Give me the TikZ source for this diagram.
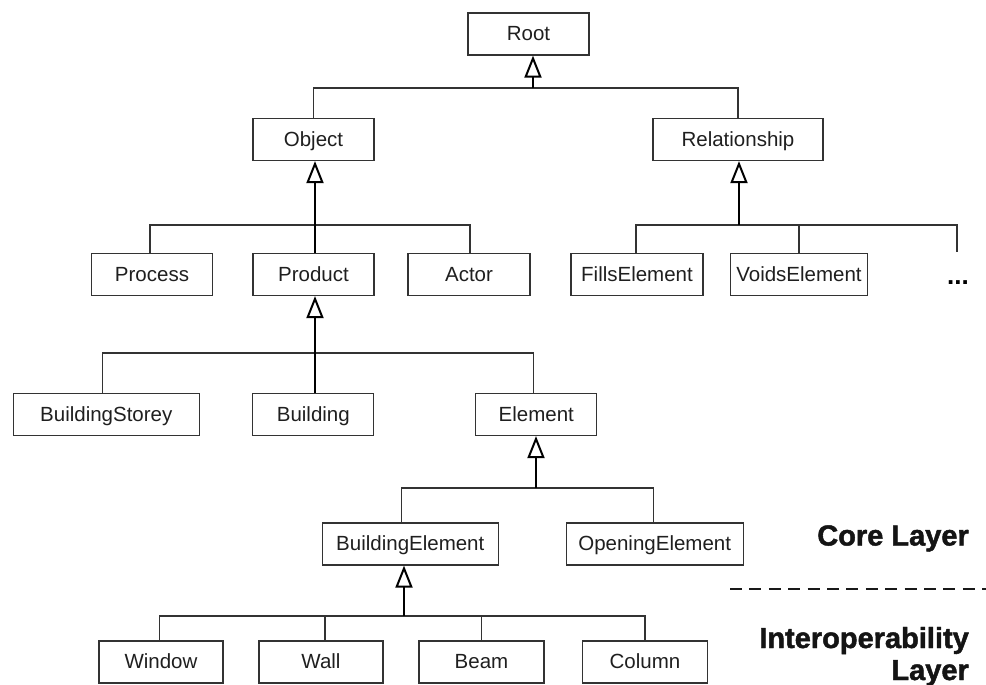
\documentclass[tikz,border=0pt]{standalone}
\usepackage{fontspec}
\setmainfont{Liberation Sans}
\newfontfamily\heavyfont{Liberation Sans}[BoldFeatures={FakeBold=1.6}]
\usetikzlibrary{arrows.meta}
\begin{document}
\begin{tikzpicture}[x=1pt,y=-1pt,
  cls/.style={draw=black!80, line width=1.2pt, minimum height=42pt, inner sep=0pt,
    text height=16pt, text depth=2.6pt,
    font=\fontsize{20.5}{24}\selectfont, text=black!88},
  link/.style={draw=black!80, line width=1.2pt},
  stem/.style={draw=black, line width=2.4pt,
    -{Triangle[open, length=22pt, width=17pt, line width=2pt]}},
  layer/.style={font=\heavyfont\bfseries\fontsize{29}{32}\selectfont, anchor=base east,
    inner sep=0pt, text=black!92},
  divider/.style={draw=black!90, line width=2.8pt, dash pattern=on 12pt off 7.4pt}]
\useasboundingbox (0,0) rectangle (986,685);

% class boxes
\node[cls, minimum width=121pt] (root) at (528.5,34) {Root};
\node[cls, minimum width=121pt] (object) at (313.5,139.5) {Object};
\node[cls, minimum width=170pt] (rel) at (738,139.5) {Relationship};
\node[cls, minimum width=121pt] (process) at (152,274.5) {Process};
\node[cls, minimum width=121pt] (product) at (313.5,274.5) {Product};
\node[cls, minimum width=122pt] (actor) at (469,274.5) {Actor};
\node[cls, minimum width=132pt] (fills) at (637,274.5) {FillsElement};
\node[cls, minimum width=137pt] (voids) at (799,274.5) {VoidsElement};
\node[font=\bfseries\fontsize{26}{28}\selectfont, inner sep=0pt] (dots) at (958,283) {...};
\node[cls, minimum width=186pt] (storey) at (106.3,414.5) {BuildingStorey};
\node[cls, minimum width=121pt] (building) at (313.3,414.5) {Building};
\node[cls, minimum width=121pt] (element) at (536.3,414.5) {Element};
\node[cls, minimum width=176pt] (belem) at (410.3,544) {BuildingElement};
\node[cls, minimum width=177pt] (opening) at (654.7,544) {OpeningElement};
\node[cls, minimum width=124pt] (window) at (161,662) {Window};
\node[cls, minimum width=124pt] (wall) at (321,662) {Wall};
\node[cls, minimum width=125pt] (beam) at (481.5,662) {Beam};
\node[cls, minimum width=125pt] (column) at (645,662) {Column};

% junctions of the generalisation trees
\coordinate (j0) at (533,88);
\coordinate (j1) at (315,225);
\coordinate (j1r) at (739,225);
\coordinate (more) at (957,252);
\coordinate (j2) at (315,353);
\coordinate (j3) at (536,488);
\coordinate (j4) at (404,616);
\coordinate (stop) at ([xshift=-3.6pt]storey.north);
\coordinate (etop) at ([xshift=-3pt]element.north);
\coordinate (btop) at ([xshift=-9pt]belem.north);
\coordinate (otop) at ([xshift=-1.5pt]opening.north);
\coordinate (wtop) at ([xshift=-1.7pt]window.north);
\coordinate (walltop) at ([xshift=4pt]wall.north);

% Root
\draw[link] (object.north) |- (j0) -| (rel.north);
\draw[stem] (j0) -- (j0 |- root.south);
% Object
\draw[link] ([xshift=-2pt]process.north) |- (j1) -| ([xshift=1pt]actor.north);
\draw[stem] (j1 |- product.north) -- (j1 |- object.south);
% Relationship
\draw[link] ([xshift=-1pt]fills.north) |- (j1r) -| (more);
\draw[link] (voids.north) -- (voids.north |- j1r);
\draw[stem] (j1r) -- (j1r |- rel.south);
% Product
\draw[link] (stop) |- (j2) -| (etop);
\draw[stem] (j2 |- building.north) -- (j2 |- product.south);
% Element
\draw[link] (btop) |- (j3) -| (otop);
\draw[stem] (j3) -- (j3 |- element.south);
% BuildingElement
\draw[link] (wtop) |- (j4) -| (column.north);
\draw[link] (walltop) -- (walltop |- j4);
\draw[link] (beam.north) -- (beam.north |- j4);
\draw[stem] (j4) -- (j4 |- belem.south);

% layer labels and divider
\node[layer] (core) at (969,545.5) {Core Layer};
\coordinate (dashL) at (730,589);
\coordinate (dashR) at (986,589);
\draw[divider] (dashL) -- (dashR);
\node[layer] (inter) at (969,648) {Interoperability};
\node[layer] (lay) at (969,680) {Layer};
\end{tikzpicture}
\end{document}
